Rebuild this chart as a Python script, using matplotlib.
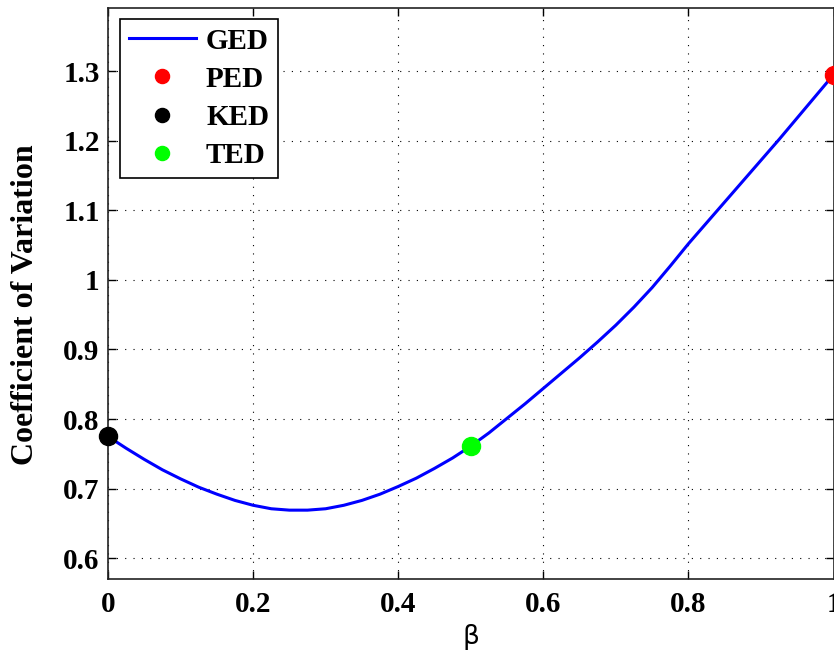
import numpy as np
import matplotlib
matplotlib.use("Agg")
import matplotlib.pyplot as plt

# Coeficiente de variación en función de beta (curva GED)
beta = [0.000, 0.025, 0.050, 0.075, 0.100, 0.125, 0.150, 0.175, 0.200, 0.225,
        0.250, 0.275, 0.300, 0.325, 0.350, 0.375, 0.400, 0.425, 0.450, 0.475,
        0.500, 0.525, 0.550, 0.575, 0.600, 0.625, 0.650, 0.675, 0.700, 0.725,
        0.750, 0.775, 0.800, 0.825, 0.850, 0.875, 0.900, 0.925, 0.950, 0.975, 1.000]
cv_ged = [0.775, 0.758, 0.742, 0.727, 0.714, 0.702, 0.692, 0.683, 0.676, 0.671,
          0.669, 0.669, 0.671, 0.676, 0.683, 0.692, 0.703, 0.715, 0.729, 0.744,
          0.761, 0.780, 0.801, 0.822, 0.844, 0.866, 0.888, 0.911, 0.935, 0.961,
          0.989, 1.020, 1.052, 1.082, 1.112, 1.142, 1.172, 1.202, 1.233, 1.264, 1.295]

# Casos particulares
beta_ped, cv_ped = 1.0, 1.295
beta_ked, cv_ked = 0.0, 0.775
beta_ted, cv_ted = 0.5, 0.761

xticks = [0, 0.2, 0.4, 0.6, 0.8, 1]
xtick_labels = ["0", "0.2", "0.4", "0.6", "0.8", "1"]
yticks = [0.6, 0.7, 0.8, 0.9, 1.0, 1.1, 1.2, 1.3]
ytick_labels = ["0.6", "0.7", "0.8", "0.9", "1", "1.1", "1.2", "1.3"]

serif_bold = dict(family="Liberation Serif", weight="bold")

fig = plt.figure(figsize=(8.34, 6.52), dpi=100)
ax = fig.add_axes([108 / 834, 1 - 579 / 652, (833.5 - 108) / 834, (579 - 8) / 652])

ax.plot(beta, cv_ged, color=(0, 0, 1), lw=2.2, label="GED", zorder=3)
ax.plot(beta_ped, cv_ped, "o", color=(1, 0, 0), ms=13, label="PED", zorder=4, clip_on=False)
ax.plot(beta_ked, cv_ked, "o", color="k", ms=13, label="KED", zorder=4, clip_on=False)
ax.plot(beta_ted, cv_ted, "o", color=(0, 1, 0), ms=13, label="TED", zorder=4, clip_on=False)

ax.set_xlim(0, 1)
ax.set_ylim(0.57, 1.391)

ax.set_xticks(xticks)
ax.set_xticklabels(xtick_labels, fontdict=dict(size=21, **serif_bold))
ax.set_yticks(yticks)
ax.set_yticklabels(ytick_labels, fontdict=dict(size=21, **serif_bold))
ax.tick_params(direction="in", length=6, width=1, top=True, right=True, color="k")
ax.tick_params(axis="x", pad=9)
ax.tick_params(axis="y", pad=6)

# Rejilla punteada al estilo MATLAB
ax.grid(True, color="k", lw=0.8, linestyle=(0, (1, 6.5)))
for s in ax.spines.values():
    s.set_color("#222222")
    s.set_linewidth(1.2)

ax.set_xlabel("β", family="DejaVu Sans", size=19)
ax.xaxis.set_label_coords(0.5, -0.079)
ax.set_ylabel("Coefficient of Variation", size=23, **serif_bold)
ax.yaxis.set_label_coords(-0.094, 0.48)

leg = ax.legend(loc="upper left", bbox_to_anchor=(0.0165, 0.981), borderaxespad=0,
                fancybox=False, framealpha=1, edgecolor="k", markerscale=0.78,
                prop=dict(size=21, **serif_bold), handlelength=2.3,
                handletextpad=0.35, labelspacing=0.38, borderpad=0.3)
leg.get_frame().set_linewidth(1.2)

fig.savefig("out.png", dpi=100)
